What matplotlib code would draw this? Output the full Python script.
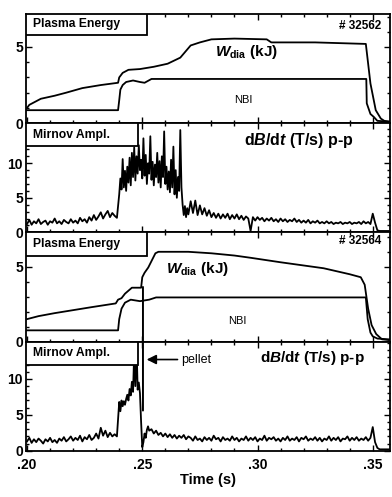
import numpy as np
import matplotlib
matplotlib.use("Agg")
import matplotlib.pyplot as plt
from matplotlib.patches import Rectangle, ConnectionPatch
from matplotlib.ticker import MultipleLocator, FixedLocator

# -----------------------------
# Fonts
# -----------------------------
plt.rcParams["font.family"] = ["Liberation Sans", "DejaVu Sans"]
plt.rcParams["font.weight"] = "bold"
plt.rcParams["mathtext.fontset"] = "custom"
plt.rcParams["mathtext.rm"] = "Liberation Sans:bold"
plt.rcParams["mathtext.it"] = "Liberation Sans:italic:bold"
plt.rcParams["mathtext.bf"] = "Liberation Sans:bold"

# -----------------------------
# Data: shot 32562
# -----------------------------
w1_t = [0.200, 0.201, 0.206, 0.212, 0.217, 0.224, 0.232, 0.2395, 0.2400, 0.2415, 0.2440,
        0.2490, 0.2550, 0.2610, 0.2665, 0.2710, 0.2750, 0.2800, 0.2900, 0.3040, 0.3060,
        0.3250, 0.3470, 0.3490, 0.3513, 0.3535, 0.3550, 0.3570]
w1_v = [1.0, 1.2, 1.6, 1.8, 2.0, 2.3, 2.5, 2.65, 3.0, 3.3, 3.5,
        3.55, 3.7, 3.9, 4.3, 5.1, 5.3, 5.5, 5.55, 5.5, 5.3,
        5.3, 5.2, 2.6, 0.85, 0.3, 0.15, 0.1]

nbi1_t = [0.200, 0.2395, 0.2400, 0.2405, 0.2415, 0.2430, 0.2460, 0.2490, 0.2510, 0.2540,
          0.3472, 0.3474, 0.3490, 0.3505, 0.3520, 0.3570]
nbi1_v = [0.85, 0.85, 1.5, 2.2, 2.5, 2.7, 2.8, 2.7, 2.65, 2.9,
          2.9, 1.3, 0.6, 0.4, 0.15, 0.1]

# Mirnov amplitude, shot 32562 (segments: start time, step, values)
mir1_pre = [1.2, 1.8, 1.1, 1.6, 1.3, 1.9, 1.2, 1.5, 1.7, 1.1, 1.6, 1.4, 2.0, 1.3, 1.6, 1.2,
            1.8, 1.5, 1.3, 1.9, 1.4, 1.7, 1.3, 2.1, 1.6, 1.9, 1.4, 2.2, 1.7, 2.5, 1.8, 2.3,
            2.9, 2.0, 2.6, 3.1, 2.2, 2.8, 2.4, 2.1]
mir1_burst = [5.5, 7.8, 6.2, 10.6, 6.5, 8.9, 6.0, 9.5, 7.2, 10.8, 6.8, 11.5, 8.0, 12.3,
              7.5, 11.0, 8.5, 12.6, 9.0, 10.5, 7.8, 13.6, 8.2, 11.2, 7.0, 10.0, 8.5, 13.9,
              7.6, 10.2, 6.8, 9.8, 8.0, 11.5, 7.2, 10.3, 6.5, 11.0, 8.0, 14.6, 7.0, 9.5,
              6.2, 8.8, 5.8, 10.5, 6.5, 12.4, 5.5, 9.0, 5.0, 8.0, 6.0, 14.8, 6.5, 4.0,
              2.5, 3.8, 2.2, 3.5, 2.6]
mir1_post = [4.5, 2.8, 4.6, 2.5, 3.9, 2.6, 3.5, 2.4, 3.2, 2.2, 2.8, 2.1, 2.7, 2.0, 2.6, 2.1,
             2.7, 1.9, 2.5, 2.0, 2.6, 1.9, 2.4, 1.8, 2.3, 2.0, 0.2, 2.2, 1.7, 2.2, 1.8, 2.1,
             1.6, 2.0, 1.7, 2.1, 1.6, 1.9, 1.5, 2.0, 1.6, 1.9, 1.5, 1.8, 1.6, 2.0, 1.5, 1.8,
             1.4, 1.7, 1.4, 1.8, 1.3, 1.6, 1.4, 1.7, 1.3, 1.5, 1.3, 1.6, 1.3, 1.5, 1.2, 1.4,
             1.3, 1.5, 1.2, 1.4, 1.3, 1.5, 1.2, 1.4, 1.3, 1.5, 1.2, 1.6, 1.3, 1.5, 1.2, 2.7,
             1.4, 0.3, 0.2, 0.2, 0.2, 0.2, 0.2]

# -----------------------------
# Data: shot 32564
# -----------------------------
w2_t = [0.200, 0.205, 0.212, 0.220, 0.228, 0.2385, 0.2395, 0.2410, 0.2425, 0.2440, 0.2455,
        0.2495, 0.2500, 0.2510, 0.2526, 0.2557, 0.2570, 0.2700, 0.2800, 0.2900, 0.2970,
        0.3100, 0.3287, 0.3400, 0.3448, 0.3465, 0.3480, 0.3495, 0.3515, 0.3540, 0.3570]
w2_v = [1.5, 1.7, 1.9, 2.1, 2.3, 2.55, 2.8, 2.9, 3.2, 3.4, 3.6,
        3.6, 4.3, 4.6, 4.95, 5.9, 6.0, 6.0, 5.9, 5.75, 5.6,
        5.3, 4.9, 4.5, 4.3, 3.8, 2.2, 1.1, 0.5, 0.15, 0.1]

nbi2_t = [0.200, 0.2395, 0.2400, 0.2410, 0.2425, 0.2450, 0.2490, 0.2530, 0.2560,
          0.3470, 0.3478, 0.3490, 0.3500, 0.3520, 0.3570]
nbi2_v = [0.75, 0.75, 1.5, 2.2, 2.6, 2.8, 2.7, 2.8, 2.95,
          2.95, 1.5, 0.6, 0.35, 0.2, 0.15]

mir2_pre = [1.3, 1.8, 1.1, 1.6, 1.2, 1.7, 1.4, 1.0, 1.6, 1.3, 1.8, 1.2, 1.5, 1.1, 1.7, 1.4,
            1.9, 1.3, 1.6, 2.0, 1.4, 1.8, 1.5, 2.1, 1.3, 1.9, 1.6, 2.2, 1.5, 1.8, 2.4, 1.7,
            3.2, 2.1, 2.8, 1.9, 2.5, 2.0, 2.3, 2.0]
mir2_burst = [6.8, 5.5, 7.0, 6.2, 6.9, 6.4, 7.2, 7.8, 7.0, 8.6, 7.7, 9.6, 8.2, 13.7, 9.0,
              15.0, 8.5, 9.5, 8.0, 4.0, 0.5, 1.2, 2.4, 1.8, 2.9, 3.4, 2.8]
mir2_post = [3.0, 2.4, 2.8, 2.2, 2.5, 2.0, 2.4, 1.9, 2.3, 1.8, 2.2, 1.7, 2.1, 1.8, 2.2, 1.6,
             2.0,
             1.8, 1.4, 2.0, 1.5, 1.7, 1.3, 1.9, 1.5, 1.8, 1.4, 2.1, 1.6, 1.8, 1.3, 1.9, 1.5,
             1.7, 1.4, 2.0, 1.5, 1.8, 1.3, 1.7, 1.5, 2.0, 1.4, 1.8, 1.5, 1.9, 1.3, 1.7, 1.5,
             2.1, 1.4, 1.8, 1.6, 1.9, 1.4, 1.7, 1.3, 1.8, 1.5, 2.0, 1.4, 1.7, 1.5, 1.9, 1.3,
             1.8, 1.6, 2.0, 1.4, 1.7, 1.5, 1.9, 1.4, 1.8, 1.3, 1.7, 1.5, 2.0, 1.4, 1.8, 1.5,
             1.9, 1.3, 1.7, 1.6, 2.0, 1.4, 1.8, 1.5, 1.9, 1.4, 1.7, 1.5, 1.9, 1.4, 1.8,
             3.3, 1.2, 0.4, 0.2, 0.2, 0.2, 0.2, 0.2]

T_PELLET = 0.2503
XTICKS = [0.20, 0.25, 0.30, 0.35]
XTICK_LABELS = [".20", ".25", ".30", ".35"]


def segments(*parts):
    ts, vs = [], []
    for t0, dt, vals in parts:
        ts.append(t0 + dt * np.arange(len(vals)))
        vs.append(np.asarray(vals))
    return np.concatenate(ts), np.concatenate(vs)


mir1_t, mir1_v = segments((0.200, 0.001, mir1_pre), (0.240, 0.0005, mir1_burst),
                          (0.271, 0.001, mir1_post))
mir2_t, mir2_v = segments((0.200, 0.001, mir2_pre), (0.240, 0.0005, mir2_burst),
                          (0.254, 0.001, mir2_post))

# -----------------------------
# Figure
# -----------------------------
fig, axes = plt.subplots(4, 1, figsize=(3.92, 4.97), dpi=100, sharex=True)
fig.subplots_adjust(left=0.066, right=0.995, top=0.972, bottom=0.093, hspace=0)
ax1, ax2, ax3, ax4 = axes

LW = 1.3
ax1.plot(w1_t, w1_v, color="k", lw=LW)
ax1.plot(nbi1_t, nbi1_v, color="k", lw=LW)
ax2.plot(mir1_t, mir1_v, color="k", lw=1.3)
ax3.plot(w2_t, w2_v, color="k", lw=LW)
ax3.plot(nbi2_t, nbi2_v, color="k", lw=LW)
ax4.plot(mir2_t, mir2_v, color="k", lw=1.3)

ax1.set_ylim(0, 7.17)
ax2.set_ylim(0, 15.8)
ax3.set_ylim(0, 7.3)
ax4.set_ylim(0, 15.2)

for ax, ticks in zip(axes, [[0, 5], [0, 5, 10], [0, 5], [0, 5, 10]]):
    ax.set_xlim(0.1995, 0.3575)
    ax.yaxis.set_major_locator(FixedLocator(ticks))
    ax.yaxis.set_minor_locator(MultipleLocator(1))
    ax.xaxis.set_minor_locator(MultipleLocator(0.01))
    ax.tick_params(direction="in", which="both", top=True, right=True,
                   labelsize=10, pad=2, width=1.0)
    ax.tick_params(which="major", length=4)
    ax.tick_params(which="minor", length=2.5)
    for s in ax.spines.values():
        s.set_linewidth(1.3)
    for lab in ax.get_yticklabels():
        lab.set_fontweight("bold")

ax4.set_xticks(XTICKS)
ax4.set_xticklabels(XTICK_LABELS, fontweight="bold", fontsize=10)
ax4.tick_params(axis="x", pad=5)
ax4.set_xlabel("Time (s)", fontsize=10.5, fontweight="bold", labelpad=1)


def label_box(ax, text, width, height):
    ax.add_patch(Rectangle((0, 1 - height), width, height, transform=ax.transAxes,
                           facecolor="white", edgecolor="k", lw=1.3, zorder=3))
    ax.text(0.02, 1 - height / 2, text, transform=ax.transAxes, ha="left",
            va="center", fontsize=8.7, fontweight="bold", zorder=4)


label_box(ax1, "Plasma Energy", 0.332, 0.193)
label_box(ax2, "Mirnov Ampl.", 0.308, 0.21)
label_box(ax3, "Plasma Energy", 0.332, 0.213)
label_box(ax4, "Mirnov Ampl.", 0.308, 0.216)

ax1.text(0.975, 0.89, "# 32562", transform=ax1.transAxes, ha="right", va="center",
         fontsize=8.5)
ax3.text(0.975, 0.92, "# 32564", transform=ax3.transAxes, ha="right", va="center",
         fontsize=8.5)
ax1.text(0.52, 0.65, r"$W_{\rm dia}$ (kJ)", transform=ax1.transAxes, ha="left",
         va="center", fontsize=11)
ax3.text(0.385, 0.66, r"$W_{\rm dia}$ (kJ)", transform=ax3.transAxes, ha="left",
         va="center", fontsize=11)
ax1.text(0.596, 0.21, "NBI", transform=ax1.transAxes, ha="center", va="center",
         fontsize=8, fontweight="normal")
ax3.text(0.58, 0.185, "NBI", transform=ax3.transAxes, ha="center", va="center",
         fontsize=8, fontweight="normal")
ax2.text(0.60, 0.845, r"d$B$/d$t$ (T/s) p-p", transform=ax2.transAxes, ha="left",
         va="center", fontsize=11.5)
ax4.text(0.643, 0.85, r"d$B$/d$t$ (T/s) p-p", transform=ax4.transAxes, ha="left",
         va="center", fontsize=11)

# pellet marker line crossing panels 3 and 4, plus arrow
fig.add_artist(ConnectionPatch(xyA=(T_PELLET, 3.65), coordsA=ax3.transData,
                               xyB=(T_PELLET, 5.6), coordsB=ax4.transData,
                               color="k", lw=1.4))
ax4.annotate("", xy=(0.2507, 12.7), xytext=(0.2665, 12.7),
             arrowprops=dict(arrowstyle="-|>", color="k", lw=1.2, mutation_scale=14))
ax4.text(0.2667, 12.7, "pellet", ha="left", va="center", fontsize=9, fontweight="normal")

fig.savefig("out.png", dpi=100)
